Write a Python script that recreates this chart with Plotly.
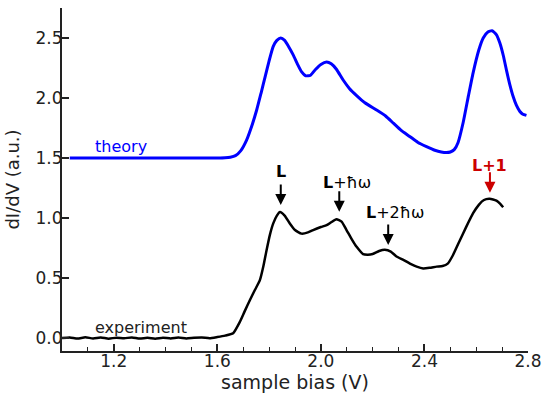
import plotly.graph_objects as go

# Theory curve (blue), offset by +1.5
theory_x = [1.03, 1.1, 1.2, 1.3, 1.4, 1.5, 1.6, 1.63, 1.65, 1.67, 1.69, 1.713, 1.735, 1.752,
            1.77, 1.785, 1.80, 1.816, 1.83, 1.845, 1.86, 1.875, 1.893, 1.91, 1.925, 1.942,
            1.96, 1.98, 2.0, 2.022, 2.04, 2.06, 2.086, 2.11, 2.138, 2.17, 2.215, 2.25, 2.28,
            2.31, 2.343, 2.375, 2.408, 2.44, 2.465, 2.485, 2.50, 2.515, 2.53, 2.55, 2.57, 2.588,
            2.61, 2.627, 2.645, 2.661, 2.677, 2.691, 2.705, 2.717, 2.73, 2.743, 2.755, 2.768,
            2.78, 2.794]
theory_y = [1.5, 1.5, 1.5, 1.5, 1.5, 1.5, 1.5, 1.502, 1.507, 1.52, 1.56, 1.65, 1.78, 1.90,
            2.05, 2.18, 2.31, 2.43, 2.48, 2.50, 2.48, 2.43, 2.36, 2.28, 2.22, 2.185,
            2.19, 2.24, 2.28, 2.30, 2.285, 2.24, 2.15, 2.08, 2.02, 1.96, 1.90, 1.85, 1.79,
            1.73, 1.68, 1.63, 1.595, 1.565, 1.55, 1.545, 1.55, 1.57, 1.63, 1.80, 2.02, 2.21,
            2.40, 2.50, 2.55, 2.56, 2.53, 2.46, 2.35, 2.23, 2.11, 2.01, 1.94, 1.89,
            1.865, 1.855]

# Experiment curve (black)
exp_x = [1.0, 1.03, 1.06, 1.09, 1.12, 1.15, 1.18, 1.21, 1.24, 1.27, 1.30, 1.33, 1.36, 1.39,
         1.42, 1.45, 1.48, 1.51, 1.54, 1.57, 1.60, 1.63, 1.661, 1.687, 1.705, 1.726, 1.745,
         1.764, 1.778, 1.79, 1.803, 1.816, 1.83, 1.842, 1.86, 1.88, 1.90, 1.925, 1.95, 1.97,
         2.0, 2.022, 2.04, 2.06, 2.08, 2.099, 2.12, 2.138, 2.163, 2.18, 2.20, 2.225, 2.247,
         2.27, 2.292, 2.32, 2.344, 2.37, 2.395, 2.42, 2.447, 2.47, 2.49, 2.51, 2.537, 2.56,
         2.588, 2.61, 2.63, 2.65, 2.665, 2.678, 2.692, 2.704]
exp_y = [0.0, 0.005, -0.004, 0.006, -0.003, 0.004, -0.005, 0.003, -0.002, 0.005, -0.004, 0.002,
         -0.005, 0.003, -0.003, 0.004, -0.004, 0.002, 0.005, -0.002, 0.008, 0.02, 0.04, 0.135,
         0.22, 0.317, 0.40, 0.48, 0.60, 0.73, 0.86, 0.955, 1.02, 1.05, 1.02, 0.955, 0.90, 0.87,
         0.88, 0.90, 0.925, 0.94, 0.965, 0.99, 0.97, 0.90, 0.82, 0.76, 0.70, 0.695, 0.70, 0.725,
         0.735, 0.72, 0.68, 0.65, 0.62, 0.595, 0.58, 0.585, 0.595, 0.60, 0.62, 0.69, 0.815,
         0.92, 1.04, 1.11, 1.15, 1.16, 1.155, 1.145, 1.12, 1.09]

x_ticks = [1.2, 1.6, 2.0, 2.4, 2.8]
y_ticks = [0.0, 0.5, 1.0, 1.5, 2.0, 2.5]

# Peak markers: (label, arrow x, arrow tip y, text x, text y, color)
peak_labels = ["<b>L</b>", "<b>L</b>+ħω", "<b>L</b>+2ħω", "<b>L+1</b>"]
peak_arrow_x = [1.845, 2.071, 2.26, 2.653]
peak_arrow_y = [1.108, 1.053, 0.775, 1.21]
peak_text_x = [1.845, 2.099, 2.287, 2.65]
peak_text_y = [1.39, 1.30, 1.047, 1.44]
peak_colors = ["black", "black", "black", "#cc0000"]

fig = go.Figure()
fig.add_trace(go.Scatter(x=theory_x, y=theory_y, mode="lines",
                         line=dict(color="#0000ff", width=3, shape="spline", smoothing=0.5),
                         showlegend=False, hoverinfo="skip"))
fig.add_trace(go.Scatter(x=exp_x, y=exp_y, mode="lines",
                         line=dict(color="black", width=2.5, shape="spline", smoothing=0.5),
                         showlegend=False, hoverinfo="skip"))

annotations = []
for lab, ax_, ay_, tx, ty, col in zip(peak_labels, peak_arrow_x, peak_arrow_y,
                                      peak_text_x, peak_text_y, peak_colors):
    annotations.append(dict(x=ax_, y=ay_, xref="x", yref="y", text="", showarrow=True,
                            ax=0, ay=-22, arrowhead=2, arrowsize=1.1, arrowwidth=2,
                            arrowcolor=col, standoff=0))
    annotations.append(dict(x=tx, y=ty, xref="x", yref="y", text=lab, showarrow=False,
                            font=dict(family="DejaVu Sans", size=16, color=col)))

annotations.append(dict(x=1.228, y=1.6, xref="x", yref="y", text="theory", showarrow=False,
                        font=dict(family="DejaVu Sans", size=16, color="#0000ff")))
annotations.append(dict(x=1.307, y=0.09, xref="x", yref="y", text="experiment", showarrow=False,
                        font=dict(family="DejaVu Sans", size=16, color="#222222")))

fig.update_layout(
    width=543, height=393,
    margin=dict(l=62, r=15, t=8, b=42),
    paper_bgcolor="white", plot_bgcolor="white",
    font=dict(family="DejaVu Sans", color="#222222"),
    annotations=annotations,
    xaxis=dict(range=[1.0, 2.8], tickmode="array", tickvals=x_ticks,
               ticktext=[f"{v:.1f}" for v in x_ticks],
               ticks="inside", ticklen=7, tickwidth=1.5, tickcolor="#222222",
               minor=dict(dtick=0.1, tick0=1.0, ticks="inside", ticklen=4, tickwidth=1.2,
                          tickcolor="#222222", showgrid=False),
               showline=True, linecolor="#222222", linewidth=2, mirror=False,
               showgrid=False, zeroline=False, ticklabelstandoff=-6,
               tickfont=dict(size=17, color="#222222"),
               title=dict(text="sample bias (V)", font=dict(size=19, color="#222222"), standoff=1),
               automargin=False),
    yaxis=dict(range=[-0.108, 2.75], tickmode="array", tickvals=y_ticks,
               ticktext=[f"{v:.1f}" for v in y_ticks],
               ticks="inside", ticklen=7, tickwidth=1.5, tickcolor="#222222",
               showline=True, linecolor="#222222", linewidth=2, mirror=False,
               showgrid=False, zeroline=False, ticklabelstandoff=-6,
               tickfont=dict(size=17, color="#222222"),
               title=dict(text="dI/dV (a.u.)", font=dict(size=18, color="#222222"), standoff=11),
               automargin=False),
)

fig.write_html("out.html")
